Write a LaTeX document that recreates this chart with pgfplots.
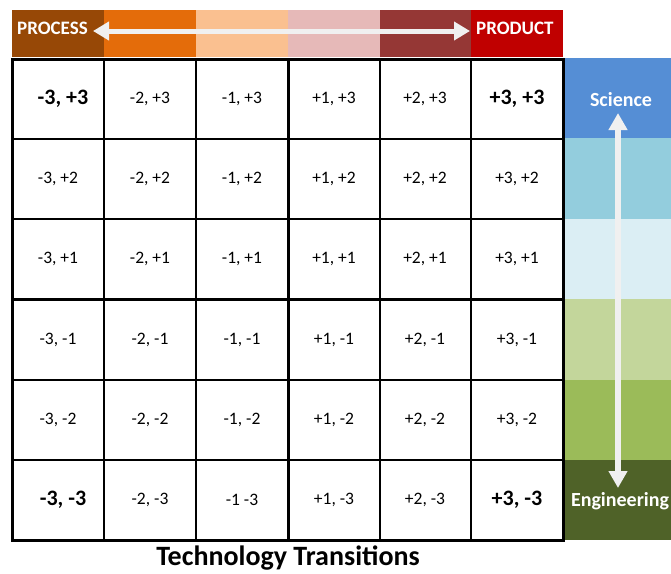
\documentclass[border=0pt]{standalone}
\usepackage{pgfplots}
\pgfplotsset{compat=1.18}
\usepackage{fontspec}
\setmainfont{Carlito}
\usetikzlibrary{arrows.meta}
\definecolor{t1}{HTML}{974806}
\definecolor{t2}{HTML}{E46C0A}
\definecolor{t3}{HTML}{FAC090}
\definecolor{t4}{HTML}{E6B9B8}
\definecolor{t5}{HTML}{953735}
\definecolor{t6}{HTML}{C00000}
\definecolor{s1}{HTML}{558ED5}
\definecolor{s2}{HTML}{93CDDD}
\definecolor{s3}{HTML}{DBEEF4}
\definecolor{s4}{HTML}{C3D69B}
\definecolor{s5}{HTML}{9BBB59}
\definecolor{s6}{HTML}{4F6228}
\definecolor{arr}{HTML}{F0F0F0}
\begin{document}
\begin{tikzpicture}
\begin{axis}[width=671pt,height=573pt,scale only axis,
  xmin=0,xmax=671,ymin=0,ymax=573,y dir=reverse,hide axis,clip=false,
  txt/.style={draw=none,mark=none,nodes near coords,point meta=explicit symbolic,
    nodes near coords align=center,
    every node near coord/.append style={anchor=center,inner sep=0pt}}]
% full frame (invisible, fixes picture size)
\addplot[draw=none,mark=none] coordinates {(0,0)(671,0)(671,573)(0,573)} -- cycle;
% top bar
\addplot[fill=t1,draw=none] coordinates {(12,10)(104,10)(104,57)(12,57)} -- cycle;
\addplot[fill=t2,draw=none] coordinates {(104,10)(196,10)(196,57)(104,57)} -- cycle;
\addplot[fill=t3,draw=none] coordinates {(196,10)(288,10)(288,57)(196,57)} -- cycle;
\addplot[fill=t4,draw=none] coordinates {(288,10)(380,10)(380,57)(288,57)} -- cycle;
\addplot[fill=t5,draw=none] coordinates {(380,10)(471,10)(471,57)(380,57)} -- cycle;
\addplot[fill=t6,draw=none] coordinates {(471,10)(563,10)(563,57)(471,57)} -- cycle;
% right bar
\addplot[fill=s1,draw=none] coordinates {(565,58)(671,58)(671,138)(565,138)} -- cycle;
\addplot[fill=s2,draw=none] coordinates {(565,138)(671,138)(671,219)(565,219)} -- cycle;
\addplot[fill=s3,draw=none] coordinates {(565,219)(671,219)(671,299)(565,299)} -- cycle;
\addplot[fill=s4,draw=none] coordinates {(565,299)(671,299)(671,380)(565,380)} -- cycle;
\addplot[fill=s5,draw=none] coordinates {(565,380)(671,380)(671,460)(565,460)} -- cycle;
\addplot[fill=s6,draw=none] coordinates {(565,460)(671,460)(671,540)(565,540)} -- cycle;
% arrows
\addplot[draw=arr,line width=5pt,{Triangle[width=18pt,length=16pt]}-{Triangle[width=18pt,length=16pt]}] coordinates {(93,31)(470,31)};
\addplot[draw=arr,line width=6pt,{Triangle[width=18pt,length=17pt]}-{Triangle[width=18pt,length=17pt]}] coordinates {(618,113)(618,488)};
% thin grid lines
\addplot[black,line width=1.3pt] coordinates {(104,59)(104,540)};
\addplot[black,line width=1.3pt] coordinates {(196,59)(196,540)};
\addplot[black,line width=1.3pt] coordinates {(380,59)(380,540)};
\addplot[black,line width=1.3pt] coordinates {(471,59)(471,540)};
\addplot[black,line width=1.3pt] coordinates {(12,139)(563,139)};
\addplot[black,line width=1.3pt] coordinates {(12,219)(563,219)};
\addplot[black,line width=1.3pt] coordinates {(12,380)(563,380)};
\addplot[black,line width=1.3pt] coordinates {(12,460)(563,460)};
% thick lines
\addplot[black,line width=3pt] coordinates {(288,59)(288,540)};
\addplot[black,line width=3pt] coordinates {(12,299)(563,299)};
\addplot[black,line width=3pt] coordinates {(12,59)(563,59)(563,540)(12,540)} -- cycle;
% cell labels
\addplot[txt,every node near coord/.append style={font=\fontsize{17.5}{20}\selectfont}] coordinates {
(150,99)[{-2, +3}] (242,99)[{-1, +3}] (334,99)[{+1, +3}] (425,99)[{+2, +3}]
(58,179)[{-3, +2}] (150,179)[{-2, +2}] (242,179)[{-1, +2}] (334,179)[{+1, +2}] (425,179)[{+2, +2}] (517,179)[{+3, +2}]
(58,259)[{-3, +1}] (150,259)[{-2, +1}] (242,259)[{-1, +1}] (334,259)[{+1, +1}] (425,259)[{+2, +1}] (517,259)[{+3, +1}]
(58,340)[{-3, -1}] (150,340)[{-2, -1}] (242,340)[{-1, -1}] (334,340)[{+1, -1}] (425,340)[{+2, -1}] (517,340)[{+3, -1}]
(58,420)[{-3, -2}] (150,420)[{-2, -2}] (242,420)[{-1, -2}] (334,420)[{+1, -2}] (425,420)[{+2, -2}] (517,420)[{+3, -2}]
(150,500)[{-2, -3}] (242,500)[{-1 -3}] (334,500)[{+1, -3}] (425,500)[{+2, -3}]
};
\addplot[txt,every node near coord/.append style={font=\fontsize{22}{24}\bfseries}] coordinates {
(63,99)[{-3, +3}] (517,99)[{+3, +3}] (63,500)[{-3, -3}] (517,500)[{+3, -3}]
};
% headers
\addplot[txt,every node near coord/.append style={font=\fontsize{19}{20}\bfseries,text=white,anchor=west}] coordinates {
(17,28)[PROCESS] (476,28)[PRODUCT]
};
\addplot[txt,every node near coord/.append style={font=\fontsize{20}{22}\bfseries,text=white}] coordinates {
(621,100)[Science] (620,501)[Engineering]
};
\addplot[txt,every node near coord/.append style={font=\fontsize{28}{30}\bfseries}] coordinates {
(288,558)[Technology Transitions]
};
\end{axis}
\end{tikzpicture}
\end{document}
